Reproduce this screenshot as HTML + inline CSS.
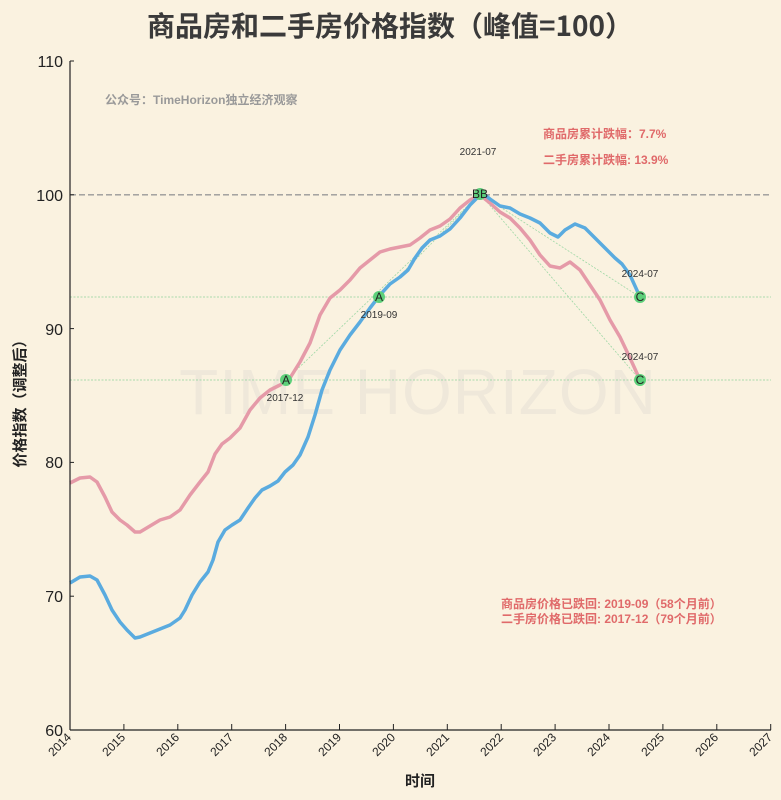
<!DOCTYPE html>
<html><head><meta charset="utf-8"><style>
body{margin:0;background:#faf2e0;}
svg{display:block;font-family:"Liberation Sans","Noto Sans CJK SC",sans-serif;}
</style></head><body>
<svg width="781" height="800" viewBox="0 0 781 800" xmlns="http://www.w3.org/2000/svg">
<rect width="781" height="800" fill="#faf2e0"/>
<text x="390" y="36" text-anchor="middle" font-size="28" font-weight="bold" fill="#3a3a3a" font-family="Noto Sans CJK SC, sans-serif">商品房和二手房价格指数（峰值=100）</text>
<text x="418" y="414" text-anchor="middle" font-size="64" fill="#efe8da" letter-spacing="1">TIME HORIZON</text>
<line x1="70" y1="194.8" x2="771" y2="194.8" stroke="#999" stroke-width="1.3" stroke-dasharray="6,3"/>
<line x1="70" y1="297" x2="771" y2="297" stroke="#8fd49a" stroke-width="0.8" stroke-dasharray="2,1.5"/>
<line x1="70" y1="380" x2="771" y2="380" stroke="#8fd49a" stroke-width="0.8" stroke-dasharray="2,1.5"/>
<polyline points="286,380 480,194 640,380" fill="none" stroke="#9fd8a6" stroke-width="0.8" stroke-dasharray="2,1.5"/>
<polyline points="379,297 480,194 640,297" fill="none" stroke="#9fd8a6" stroke-width="0.8" stroke-dasharray="2,1.5"/>
<polyline fill="none" stroke="#e59aa8" stroke-width="3.5" stroke-linejoin="round" points="70,483 80,478 90,477 97,482 105,497 112,512 120,520 127,525 135,532 140,532 150,526 160,520 170,517 180,510 190,495 200,482 208,472 215,454 222,444 230,438 240,428 250,410 260,398 270,390 280,385 290,378 300,362 310,343 320,315 330,298 340,290 350,280 360,268 370,260 380,252 390,249 400,247 410,245 420,238 430,230 440,226 450,219 460,208 470,200 480,195 490,203 500,212 510,218 520,228 530,240 540,255 550,266 560,268 570,262 580,270 590,285 600,300 610,320 620,337 630,358 640,380"/>
<polyline fill="none" stroke="#5aabdf" stroke-width="3.5" stroke-linejoin="round" points="70,583 80,577 90,576 97,580 105,595 112,610 120,622 127,630 135,638 140,637 150,633 160,629 170,625 180,618 185,610 192,595 200,582 208,572 213,560 218,542 225,530 232,525 240,520 248,508 255,498 262,490 270,486 278,481 285,472 293,465 300,455 308,437 315,415 322,390 330,370 340,350 350,335 360,322 370,308 380,295 390,284 400,277 408,270 415,258 422,248 430,240 440,236 450,229 460,218 470,205 480,195 485,195 490,199 500,206 510,208 520,214 530,218 540,223 550,233 558,237 565,230 575,224 585,228 595,238 605,248 615,258 622,264 630,275 640,297"/>
<g fill="#5dd07a"><circle cx="286" cy="380" r="6"/><circle cx="379" cy="297" r="6"/><circle cx="480" cy="194" r="6"/><circle cx="640" cy="297" r="6"/><circle cx="640" cy="380" r="6"/></g>
<g font-size="12" fill="#222" text-anchor="middle">
<text x="286" y="384">A</text><text x="379" y="301">A</text><text x="480" y="198">BB</text><text x="640" y="301">C</text><text x="640" y="384">C</text>
</g>
<g font-size="10" fill="#333" text-anchor="middle">
<text x="285" y="401">2017-12</text><text x="379" y="318">2019-09</text><text x="478" y="155">2021-07</text><text x="640" y="277">2024-07</text><text x="640" y="360">2024-07</text>
</g>
<text x="105" y="104" font-size="12" fill="#999" font-weight="bold">公众号：TimeHorizon独立经济观察</text>
<text x="543" y="138" font-size="12" fill="#e06a6a" font-weight="bold">商品房累计跌幅：7.7%</text>
<text x="543" y="164" font-size="12" fill="#e06a6a" font-weight="bold">二手房累计跌幅: 13.9%</text>
<text x="501" y="608" font-size="12" fill="#e06a6a" font-weight="bold">商品房价格已跌回: 2019-09（58个月前）</text>
<text x="501" y="623" font-size="12" fill="#e06a6a" font-weight="bold">二手房价格已跌回: 2017-12（79个月前）</text>
<line x1="70" y1="61" x2="70" y2="730" stroke="#222" stroke-width="1.2"/>
<line x1="70" y1="730" x2="771" y2="730" stroke="#222" stroke-width="1.2"/>
<g stroke="#222"><line x1="70" y1="61" x2="74" y2="61"/><line x1="70" y1="194.8" x2="74" y2="194.8"/><line x1="70" y1="328.6" x2="74" y2="328.6"/><line x1="70" y1="462.4" x2="74" y2="462.4"/><line x1="70" y1="596.2" x2="74" y2="596.2"/></g>
<g font-size="16" fill="#222" text-anchor="end">
<text x="63" y="67">110</text><text x="63" y="201">100</text><text x="63" y="335">90</text><text x="63" y="468">80</text><text x="63" y="602">70</text><text x="63" y="736">60</text>
</g>
<g stroke="#222">
<line x1="123.9" y1="730" x2="123.9" y2="724"/><line x1="177.8" y1="730" x2="177.8" y2="724"/><line x1="231.7" y1="730" x2="231.7" y2="724"/><line x1="285.6" y1="730" x2="285.6" y2="724"/><line x1="339.5" y1="730" x2="339.5" y2="724"/><line x1="393.4" y1="730" x2="393.4" y2="724"/><line x1="447.3" y1="730" x2="447.3" y2="724"/><line x1="501.2" y1="730" x2="501.2" y2="724"/><line x1="555.1" y1="730" x2="555.1" y2="724"/><line x1="609" y1="730" x2="609" y2="724"/><line x1="662.9" y1="730" x2="662.9" y2="724"/><line x1="716.8" y1="730" x2="716.8" y2="724"/><line x1="770.7" y1="730" x2="770.7" y2="724"/>
</g>
<g font-size="12" fill="#222" text-anchor="end">
<text transform="translate(72,738) rotate(-45)">2014</text>
<text transform="translate(126,738) rotate(-45)">2015</text>
<text transform="translate(180,738) rotate(-45)">2016</text>
<text transform="translate(234,738) rotate(-45)">2017</text>
<text transform="translate(288,738) rotate(-45)">2018</text>
<text transform="translate(342,738) rotate(-45)">2019</text>
<text transform="translate(396,738) rotate(-45)">2020</text>
<text transform="translate(450,738) rotate(-45)">2021</text>
<text transform="translate(504,738) rotate(-45)">2022</text>
<text transform="translate(557,738) rotate(-45)">2023</text>
<text transform="translate(611,738) rotate(-45)">2024</text>
<text transform="translate(665,738) rotate(-45)">2025</text>
<text transform="translate(719,738) rotate(-45)">2026</text>
<text transform="translate(773,738) rotate(-45)">2027</text>
</g>
<text x="420" y="786" text-anchor="middle" font-size="15" font-weight="bold" fill="#222">时间</text>
<text transform="translate(25,400) rotate(-90)" text-anchor="middle" font-size="15" font-weight="bold" fill="#222">价格指数（调整后）</text>
</svg>
</body></html>
